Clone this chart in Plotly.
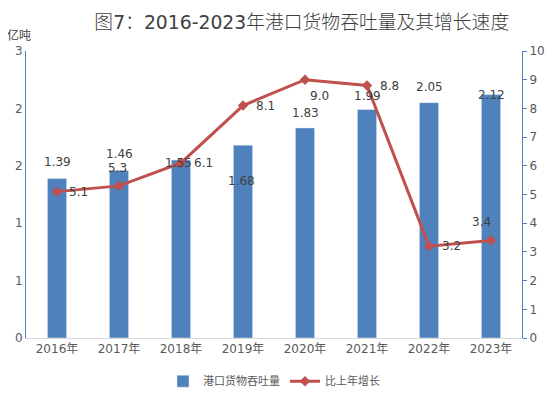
import plotly.graph_objects as go

years = ["2016年", "2017年", "2018年", "2019年", "2020年", "2021年", "2022年", "2023年"]
throughput = [1.39, 1.46, 1.55, 1.68, 1.83, 1.99, 2.05, 2.12]   # 亿吨
growth = [5.1, 5.3, 6.1, 8.1, 9.0, 8.8, 3.2, 3.4]               # %
left_ticks = [0, 0.5, 1, 1.5, 2, 2.5]
left_text = ["0", "1", "1", "2", "2", "3"]
right_ticks = list(range(0, 11))

# label offsets in px (x, y) -- copied by eye from the excel chart
bar_off = [(0, 16), (0, 16), (-3, -3), (-2, -36), (0, 15), (0, 14), (0, 16), (0, 0)]
line_off = [(21, 0), (-2, 18), (22, 0), (22, 0), (14, -16), (22, -1), (22, 0), (-10, 18)]

BLUE = "#4F81BD"
RED = "#C0504D"
TXT = "#404040"
FONT = "DejaVu Sans, Noto Sans CJK SC"

fig = go.Figure()
fig.add_trace(go.Bar(
    x=years, y=throughput, name="港口货物吞吐量",
    marker_color=BLUE, width=0.31,
))
fig.add_trace(go.Scatter(
    x=years, y=growth, name="比上年增长", yaxis="y2",
    mode="lines+markers",
    line=dict(color=RED, width=3),
    marker=dict(symbol="diamond", size=8, color=RED),
))

annos = []
for yr, v, (dx, dy) in zip(years, throughput, bar_off):
    annos.append(dict(x=yr, y=v, xref="x", yref="y", text=f"{v:.2f}",
                      showarrow=False, xshift=dx, yshift=dy,
                      font=dict(size=12, color=TXT)))
for yr, v, (dx, dy) in zip(years, growth, line_off):
    annos.append(dict(x=yr, y=v, xref="x", yref="y2", text=f"{v:.1f}",
                      showarrow=False, xshift=dx, yshift=dy,
                      font=dict(size=12, color=TXT)))
annos.append(dict(x=-0.014, y=1.056, xref="paper", yref="paper", text="亿吨",
                  showarrow=False, xanchor="center", yanchor="middle",
                  font=dict(size=12, color=TXT, family="Noto Sans CJK SC")))

# thin CJK glyphs, regular digits (like the original)
reg = "<span style='font-weight:400'>{}</span>"
title_txt = "图" + reg.format("7") + "：" + reg.format("2016-2023") + "年港口货物吞吐量及其增长速度"

# page body has an 8px margin, so the figure is a bit smaller than the window
fig.update_layout(
    width=548, height=394,
    margin=dict(l=18, r=34, t=43, b=64, autoexpand=False),
    paper_bgcolor="white", plot_bgcolor="white",
    font=dict(family=FONT, size=12, color="#595959"),
    title=dict(text=title_txt,
               x=0.556, xref="paper", xanchor="center",
               y=0.964, yref="container", yanchor="middle",
               font=dict(size=18.8, color="#404040", family=FONT, weight=300)),
    xaxis=dict(showline=True, linecolor="#D9D9D9", linewidth=1, automargin=False,
               ticks="", showgrid=False, tickfont=dict(size=12, color="#595959")),
    yaxis=dict(range=[0, 2.5], tickvals=left_ticks, ticktext=left_text, automargin=False,
               showline=True, linecolor=BLUE, linewidth=1, showgrid=False,
               zeroline=False, ticks="", tickfont=dict(size=12, color="#595959")),
    yaxis2=dict(range=[0, 10], tickvals=right_ticks, overlaying="y", side="right",
                automargin=False,
                showline=True, linecolor=BLUE, linewidth=1, showgrid=False,
                zeroline=False, ticks="outside", ticklen=4, tickcolor=BLUE,
                tickfont=dict(size=12, color="#595959")),
    legend=dict(orientation="h", x=0.5, xanchor="center", y=-0.1, yanchor="top",
                font=dict(size=11, color="#595959", family="Noto Sans CJK SC")),
    annotations=annos,
)

fig.write_html("out.html")
